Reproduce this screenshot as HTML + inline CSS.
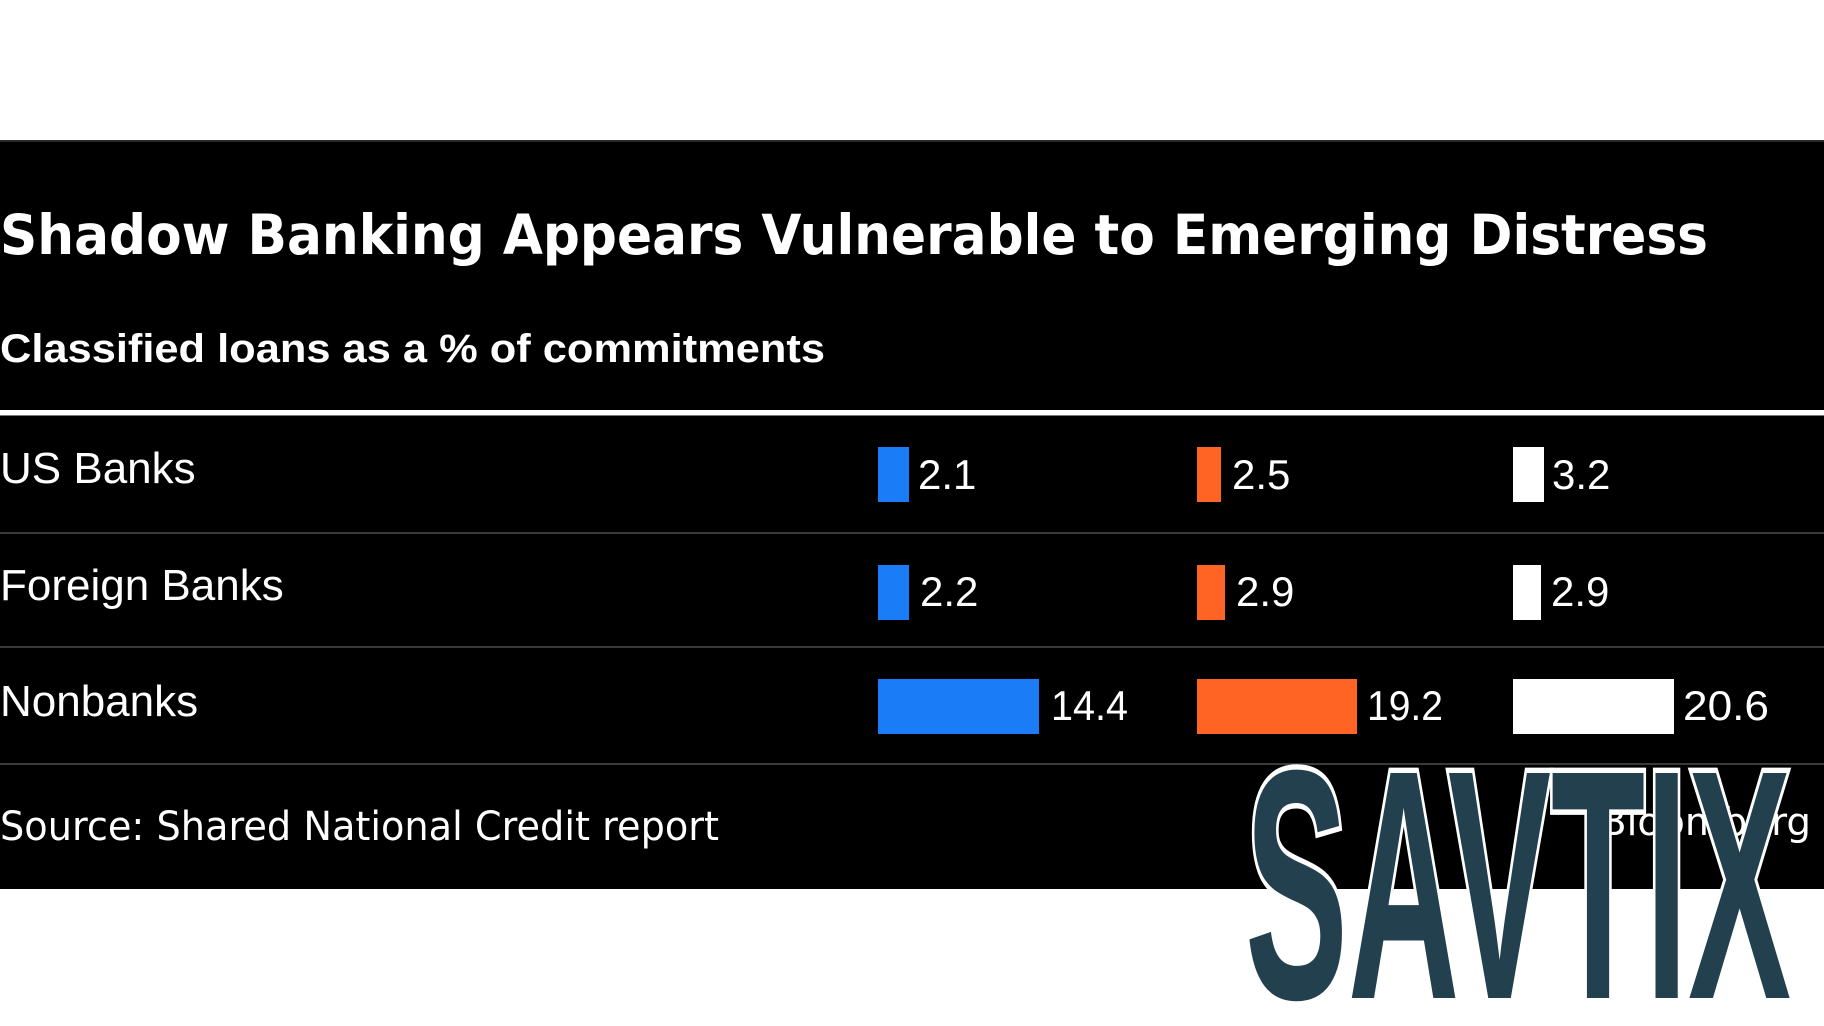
<!DOCTYPE html>
<html>
<head>
<meta charset="utf-8">
<style>
  html,body{margin:0;padding:0;background:#fff;}
  svg{display:block;}
</style>
</head>
<body>
<svg width="1824" height="1026" viewBox="0 0 1824 1026" xmlns="http://www.w3.org/2000/svg">
  <rect x="0" y="0" width="1824" height="1026" fill="#ffffff"/>
  <rect x="0" y="140" width="1824" height="749" fill="#000000"/>
  <rect x="0" y="140" width="1824" height="2" fill="#2a2a2a"/>

  <!-- Title -->
  <text x="0" y="254" font-family="'DejaVu Sans', 'Liberation Sans', sans-serif" font-weight="bold" font-size="55" fill="#ffffff" textLength="1708" lengthAdjust="spacingAndGlyphs">Shadow Banking Appears Vulnerable to Emerging Distress</text>

  <!-- Subtitle -->
  <text x="0" y="362" font-family="'Liberation Sans', sans-serif" font-weight="bold" font-size="40" fill="#ffffff" textLength="825" lengthAdjust="spacingAndGlyphs">Classified loans as a % of commitments</text>

  <!-- Header rule -->
  <rect x="0" y="410" width="1824" height="5" fill="#ffffff"/>
  <rect x="0" y="415" width="1824" height="1" fill="#777777"/>

  <!-- Row separators -->
  <rect x="0" y="532" width="1824" height="2" fill="#3a3a3a"/>
  <rect x="0" y="646" width="1824" height="2" fill="#3a3a3a"/>
  <rect x="0" y="763" width="1824" height="2" fill="#3a3a3a"/>

  <!-- Row labels -->
  <g font-family="'Liberation Sans', sans-serif" font-size="44" fill="#ffffff">
    <text x="0" y="483">US Banks</text>
    <text x="0" y="600">Foreign Banks</text>
    <text x="0" y="716">Nonbanks</text>
  </g>

  <!-- Bars -->
  <rect x="878" y="447" width="31" height="55" fill="#1a7cf6"/>
  <rect x="878" y="565" width="31" height="55" fill="#1a7cf6"/>
  <rect x="878" y="679" width="161" height="55" fill="#1a7cf6"/>

  <rect x="1197" y="447" width="24" height="55" fill="#ff6424"/>
  <rect x="1197" y="565" width="28" height="55" fill="#ff6424"/>
  <rect x="1197" y="679" width="160" height="55" fill="#ff6424"/>

  <rect x="1513" y="447" width="31" height="55" fill="#ffffff"/>
  <rect x="1513" y="565" width="28" height="55" fill="#ffffff"/>
  <rect x="1513" y="679" width="161" height="55" fill="#ffffff"/>

  <!-- Values -->
  <g font-family="'Liberation Sans', sans-serif" font-size="42" fill="#ffffff">
    <text x="918" y="489">2.1</text>
    <text x="920" y="606">2.2</text>
    <text x="1051" y="720" textLength="77" lengthAdjust="spacingAndGlyphs">14.4</text>

    <text x="1232" y="489">2.5</text>
    <text x="1236" y="606">2.9</text>
    <text x="1367" y="720" textLength="76" lengthAdjust="spacingAndGlyphs">19.2</text>

    <text x="1552" y="489">3.2</text>
    <text x="1551" y="606">2.9</text>
    <text x="1683" y="720" textLength="86" lengthAdjust="spacingAndGlyphs">20.6</text>
  </g>

  <!-- Source -->
  <text x="0" y="840" font-family="'DejaVu Sans', 'Liberation Sans', sans-serif" font-size="40" fill="#ffffff" textLength="719" lengthAdjust="spacingAndGlyphs">Source: Shared National Credit report</text>

  <!-- Bloomberg -->
  <text x="1600" y="835" font-family="'DejaVu Sans', 'Liberation Sans', sans-serif" font-size="38" fill="#ffffff" textLength="211" lengthAdjust="spacingAndGlyphs">Bloomberg</text>

  <!-- Watermark -->
  <g transform="translate(1245,998) scale(1,2.18)">
    <text x="0" y="0" font-family="'Liberation Sans', sans-serif" font-weight="bold" font-size="150" fill="#23404f" stroke="#ffffff" stroke-width="5" paint-order="stroke" textLength="546" lengthAdjust="spacingAndGlyphs">SAVTIX</text>
  </g>
</svg>
</body>
</html>
